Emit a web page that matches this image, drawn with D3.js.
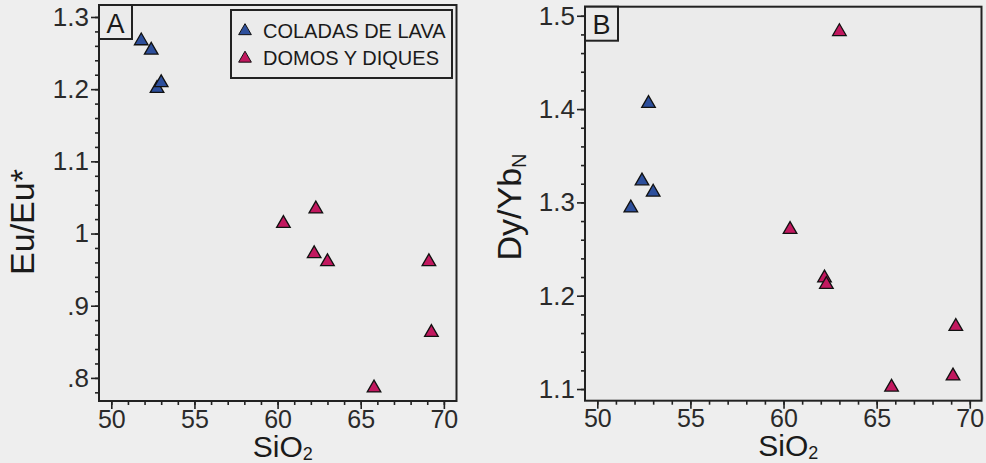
<!DOCTYPE html>
<html><head><meta charset="utf-8">
<script src="https://cdn.jsdelivr.net/npm/d3@7"></script>
<style>
html,body{margin:0;padding:0;background:#eeeeee;}
svg{display:block;font-family:"Liberation Sans",Arial,sans-serif;}
</style></head>
<body>
<svg id="c" width="986" height="463"></svg>
<script>
// ---- data ----
const seriesNames = ["COLADAS DE LAVA", "DOMOS Y DIQUES"];
const lavaSiO2 = [51.8, 52.4, 52.75, 53.0];
const lavaEu   = [1.267, 1.254, 1.201, 1.209];
const lavaDy   = [1.294, 1.323, 1.406, 1.311];
const domoSiO2 = [60.35, 62.2, 62.3, 63.0, 65.8, 69.1, 69.25];
const domoEu   = [1.014, 0.972, 1.034, 0.961, 0.786, 0.961, 0.863];
const domoDy   = [1.271, 1.219, 1.212, 1.483, 1.102, 1.114, 1.167];
const xTicks = [50, 55, 60, 65, 70];
const yTicksA = [1.3, 1.2, 1.1, 1.0, 0.9, 0.8];
const yTickLabelsA = ["1.3", "1.2", "1.1", "1", ".9", ".8"];
const yTicksB = [1.5, 1.4, 1.3, 1.2, 1.1];
const yTickLabelsB = ["1.5", "1.4", "1.3", "1.2", "1.1"];
const colors = ["#2d4f9c", "#c2185f"];

const svg = d3.select("#c");
const INK = "#222";

function panel(o) {
  const x = d3.scaleLinear().domain(o.xDom).range([o.left, o.right]);
  const y = d3.scaleLinear().domain(o.yDom).range([o.bottom, o.top]);
  const g = svg.append("g");
  g.append("rect").attr("x", o.left).attr("y", o.top)
    .attr("width", o.right - o.left).attr("height", o.bottom - o.top)
    .attr("fill", "#ebebeb").attr("stroke", INK).attr("stroke-width", 2);

  // minor ticks
  const xMinor = d3.range(Math.ceil(o.xDom[0]), Math.floor(o.xDom[1]) + 1, 1);
  g.append("g").attr("transform", `translate(0,${o.bottom})`)
    .call(d3.axisBottom(x).tickValues(xMinor).tickSize(4).tickFormat(""))
    .call(a => a.select(".domain").remove());
  const yMinor = d3.range(Math.ceil(o.yDom[0] * 50), Math.floor(o.yDom[1] * 50) + 1).map(v => v / 50);
  g.append("g").attr("transform", `translate(${o.left},0)`)
    .call(d3.axisLeft(y).tickValues(yMinor).tickSize(4).tickFormat(""))
    .call(a => a.select(".domain").remove());

  // major ticks
  const ax = g.append("g").attr("transform", `translate(0,${o.bottom})`)
    .call(d3.axisBottom(x).tickValues(xTicks).tickSize(8).tickPadding(1).tickFormat(d3.format("d")));
  ax.select(".domain").remove();
  ax.selectAll("text").attr("font-size", 25).attr("fill", "#2a2a2a")
    .attr("font-family", "Liberation Sans, Arial, sans-serif");
  const ay = g.append("g").attr("transform", `translate(${o.left},0)`)
    .call(d3.axisLeft(y).tickValues(o.yTicks).tickSize(8).tickPadding(2)
      .tickFormat((d, i) => o.yLabels[i]));
  ay.select(".domain").remove();
  ay.selectAll("text").attr("font-size", 26).attr("fill", "#2a2a2a")
    .attr("font-family", "Liberation Sans, Arial, sans-serif");
  g.selectAll(".tick line").attr("stroke", INK).attr("stroke-width", 1.6);

  // panel letter box
  g.append("rect").attr("x", o.left).attr("y", o.top).attr("width", 33).attr("height", 34)
    .attr("fill", "#ebebeb").attr("stroke", INK).attr("stroke-width", 2);
  g.append("text").attr("x", o.left + 16.5).attr("y", o.top + 27.5)
    .attr("text-anchor", "middle").attr("font-size", 27).attr("fill", "#1a1a1a").text(o.letter);

  // x title
  const xt = g.append("text").attr("x", (o.left + o.right) / 2 + 5).attr("y", o.xTitleY)
    .attr("text-anchor", "middle").attr("font-size", 30).attr("fill", "#1a1a1a");
  xt.append("tspan").text("SiO");
  xt.append("tspan").attr("font-size", 18).attr("dy", 3).text("2");

  // y title
  const yt = g.append("text")
    .attr("transform", `translate(${o.yTitleX},${o.yTitleY}) rotate(-90)`)
    .attr("text-anchor", "middle").attr("font-size", 34).attr("fill", "#1a1a1a");
  o.yTitle(yt);

  // points
  const sym = d3.symbol().type(d3.symbolTriangle).size(80);
  const sets = [
    {xs: lavaSiO2, ys: o.lavaY, c: colors[0]},
    {xs: domoSiO2, ys: o.domoY, c: colors[1]}
  ];
  sets.forEach(s => {
    g.append("g").selectAll("path").data(s.xs).join("path")
      .attr("d", sym)
      .attr("transform", (d, i) => `translate(${x(d)},${y(s.ys[i])})`)
      .attr("fill", s.c).attr("stroke", "#111").attr("stroke-width", 1.3);
  });
  return {x, y, g};
}

panel({
  left: 99, right: 456.5, top: 5, bottom: 401,
  xDom: [49.26, 70.76], yDom: [0.768, 1.3166],
  yTicks: yTicksA, yLabels: yTickLabelsA, letter: "A",
  xTitleY: 457, yTitleX: 34, yTitleY: 222,
  yTitle: t => t.text("Eu/Eu*"),
  lavaY: lavaEu, domoY: domoEu
});

panel({
  left: 585, right: 981.5, top: 6.7, bottom: 400.7,
  xDom: [49.34, 70.63], yDom: [1.0875, 1.5097],
  yTicks: yTicksB, yLabels: yTickLabelsB, letter: "B",
  xTitleY: 456, yTitleX: 521, yTitleY: 207,
  yTitle: t => { t.append("tspan").text("Dy/Yb"); t.append("tspan").attr("font-size", 20).attr("dy", 5).text("N"); },
  lavaY: lavaDy, domoY: domoDy
});

// legend
const lg = svg.append("g");
lg.append("rect").attr("x", 231).attr("y", 10).attr("width", 221).attr("height", 68)
  .attr("fill", "#ebebeb").attr("stroke", INK).attr("stroke-width", 2);
const lsym = d3.symbol().type(d3.symbolTriangle).size(70);
seriesNames.forEach((n, i) => {
  lg.append("path").attr("d", lsym).attr("transform", `translate(245,${31 + i * 27.5})`)
    .attr("fill", colors[i]).attr("stroke", "#111").attr("stroke-width", 1);
  lg.append("text").attr("x", 263).attr("y", 37.5 + i * 27.5).attr("font-size", 20)
    .attr("fill", "#1a1a1a").text(n);
});
</script>
</body></html>
